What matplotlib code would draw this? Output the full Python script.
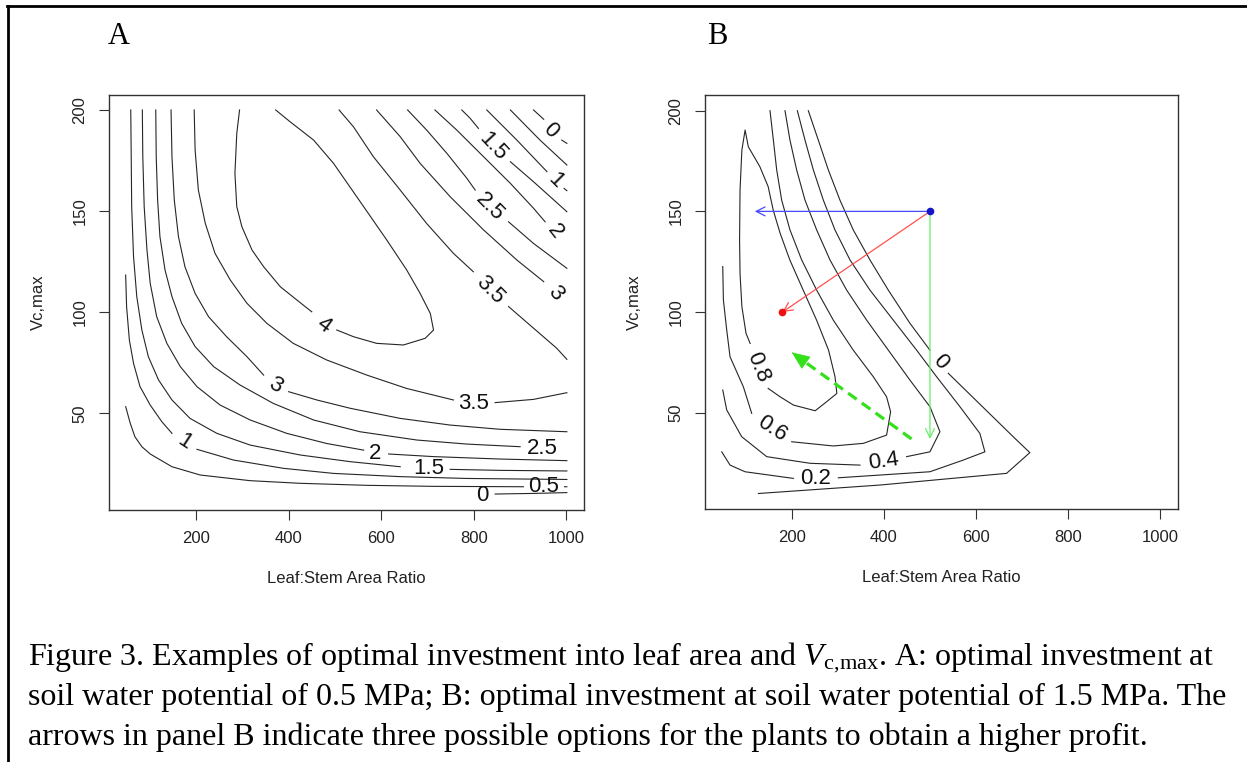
import numpy as np
import matplotlib
matplotlib.use('Agg')
import matplotlib.pyplot as plt
from matplotlib.lines import Line2D

nan = np.nan

# ---------------- axis ticks ----------------
x_ticks = [200, 400, 600, 800, 1000]
y_ticks = [50, 100, 150, 200]

# ---------------- Panel A contour lines (Leaf:Stem ratio, Vc,max) ----------------
a0_x = [846, 929, 1001]
a0_y = [10.1, 10.4, 10.8]
a05_x = [48, 58, 68, 83, 101, 148, 209, 317, 425, 569, 713, 907, nan, 996, 1001]
a05_y = [53.3, 45.0, 38.4, 33.5, 29.9, 23.6, 19.5, 16.7, 15.4, 14.4, 13.9, 13.7, nan, 13.7, 13.7]
a1_x = [48, 50, 56, 65, 79, 101, 126, 148, nan, 202, 281, 389, 497, 641, 785, 1001]
a1_y = [118.4, 102.7, 86.2, 74.7, 63.2, 54.1, 45.9, 40.1, nan, 32.2, 26.9, 22.8, 20.3, 18.7, 17.8, 17.3]
a15_x = [59, 60, 61, 65, 72, 83, 97, 119, 148, 187, 245, 317, 425, 533, 641, nan, 749, 857, 1001]
a15_y = [200, 176.9, 152.2, 127.5, 107.7, 91.2, 78.0, 66.5, 56.6, 47.5, 40.1, 34.3, 29.4, 26.1, 23.6, nan, 22.3, 21.8, 21.5]
a2_x = [84, 85, 88, 94, 101, 115, 137, 166, 202, 252, 317, 396, 482, 562, nan, 616, 713, 857, 1001]
a2_y = [200, 176.9, 152.2, 130.8, 114.3, 97.8, 84.6, 73.1, 63.2, 54.1, 46.7, 40.1, 35.1, 31.8, nan, 29.9, 28.6, 27.4, 26.6]
a25_x = [113, 114, 117, 122, 133, 148, 169, 198, 238, 295, 367, 454, 554, 677, 785, 900]
a25_y = [200, 176.9, 155.5, 137.4, 120.9, 107.7, 94.5, 83.0, 73.1, 64.0, 54.9, 46.7, 40.9, 36.8, 34.8, 33.5]
a3_x = [146, 148, 153, 162, 176, 198, 227, 266, 310, 346, nan, 400, 461, 533, 641, 749, 857, 1001]
a3_y = [200, 176.9, 155.5, 137.4, 122.5, 109.3, 97.8, 87.9, 78.0, 68.9, nan, 60.7, 56.6, 52.5, 47.5, 44.2, 42.1, 40.9]
a35_x = [196, 198, 205, 220, 241, 274, 310, 353, 410, 482, 569, 655, 756, nan, 846, 929, 1001]
a35_y = [200, 180.2, 160.4, 143.9, 129.1, 115.9, 104.4, 94.5, 84.6, 76.4, 68.9, 62.3, 56.6, nan, 55.3, 56.9, 60.2]
a4_x = [294, 288, 284, 288, 299, 321, 346, 382, 418, 450, nan, 504, 540, 590, 648, 695, 713, 706, 684,
        655, 612, 562, 497, 454, 403, 372]
a4_y = [200, 188.4, 168.6, 152.2, 142.3, 130.7, 122.5, 112.6, 106.0, 100.2, nan, 91.2, 87.9, 84.6, 83.8,
        87.1, 91.2, 99.4, 109.3, 120.9, 135.7, 152.2, 173.6, 185.1, 194.2, 200]
a35u_x = [509, 540, 583, 641, 698, 756, 799, nan, 875, 929, 979, 1001]
a35u_y = [200, 191.7, 176.9, 160.4, 143.9, 129.1, 120.0, nan, 102.8, 92.1, 82.2, 76.7]
a3u_x = [590, 641, 684, 749, 821, 893, 951]
a3u_y = [200, 186.8, 173.6, 157.1, 140.7, 125.8, 115.1]
a25u_x = [657, 698, 742, 785, 803, nan, 875, 929, 1001]
a25u_y = [200, 190.1, 178.5, 166.2, 160.4, nan, 144.7, 134.0, 121.7]
a2u_x = [716, 763, 821, 879, 929, 954]
a2u_y = [200, 190.1, 176.9, 163.7, 151.4, 144.7]
a15u_x = [774, 792, 810, nan, 879, 929, 1001]
a15u_y = [200, 195.9, 190.9, nan, 174.4, 164.5, 149.7]
a1u_x = [828, 893, 958, nan, 995, 1001]
a1u_y = [200, 185.1, 169.5, nan, 161.2, 160.1]
a05u_x = [879, 943, 1001]
a05u_y = [200, 185.1, 172.8]
a0u_x = [929, 951, nan, 990, 1001]
a0u_y = [200, 195.4, nan, 185.1, 183.5]

a_lab_text = ['0', '0.5', '1', '1.5', '2', '2.5', '3', '3.5', '4', '3.5', '3', '2.5', '2', '1.5', '1', '0']
a_lab_x = [819, 950, 176, 702, 587, 947, 371, 799, 475, 835, 976, 835, 976, 842, 976, 965]
a_lab_y = [9.6, 13.7, 36.0, 22.8, 30.2, 32.7, 64.0, 54.9, 93.6, 110.9, 109.3, 152.2, 139.8, 181.8, 165.0, 190.1]
a_lab_rot = [0, 0, -33, 0, 0, 0, -30, 0, -36, -45, -50, -45, -52, -47, -45, -45]

# ---------------- Panel B contour lines ----------------
b08_x = [110, 101, 92, 88, 87, 88, 92, 99, 106, 131, 149, 160, 175, 196, 225, 254, 280, 294, 298,
         276, 251, 204, 175, 149]
b08_y = [84.4, 89.4, 102.7, 119.2, 135.8, 160.6, 180.5, 190.4, 182.1, 172.2, 162.3, 150.6, 139.1,
         125.9, 110.9, 96.0, 81.1, 67.9, 59.6, 55.5, 51.0, 53.8, 57.9, 62.1]
b06_x = [50.5, 51.9, 59.1, 66.3, 95.2, 113.3, nan, 200.0, 290.3, 355.4, 405.9, 414.6, 405.9, 377.0,
         333.6, 290.3, 254.2, 221.7, 196.3, 178.3, 167.5, 160.3, 153.0]
b06_y = [122.6, 106.0, 91.1, 77.8, 62.9, 49.7, nan, 35.6, 33.5, 34.8, 38.9, 50.5, 57.9, 67.9,
         81.1, 96.0, 110.9, 125.9, 140.8, 155.6, 170.6, 185.4, 200.0]
b04_x = [50.5, 59.1, 91.6, 145.8, 239.8, 348.2, nan, 449.3, 499.9, 521.6, 499.9, 456.6, 409.6,
         362.6, 319.3, 283.1, 254.2, 228.9, 210.8, 196.3, 185.5]
b04_y = [61.3, 51.4, 38.1, 28.2, 24.9, 24.0, nan, 28.2, 30.6, 40.6, 53.0, 66.2, 81.1,
         96.0, 110.9, 125.9, 140.8, 155.6, 170.6, 185.4, 200.0]
b02_x = [48.3, 66.3, 98.8, 203.6, nan, 301.2, 499.9, 572.2, 619.1, 608.3, 565.0, 514.3, 471.0,
         420.4, 369.8, 326.5, 293.9, 268.7, 247.0, 228.9, 212.3]
b02_y = [30.6, 24.0, 20.7, 17.4, nan, 17.7, 20.7, 26.5, 30.6, 39.7, 53.0, 67.9, 81.1,
         96.0, 110.9, 125.9, 140.8, 155.6, 170.6, 185.4, 200.0]
b0_x = [127.8, 391.5, 666.1, 716.6, 680.5, 539.7, nan, 499.9, 456.6, 409.6, 369.8, 333.6, 304.7,
        279.5, 257.8, 236.1]
b0_y = [9.9, 14.1, 19.9, 30.2, 38.1, 69.6, nan, 81.1, 94.4, 110.9, 125.9, 140.8, 155.6,
        170.6, 185.4, 200.0]

b_lab_text = ['0.8', '0.6', '0.4', '0.2', '0']
b_lab_x = [128, 157, 399, 251, 522]
b_lab_y = [72.8, 42.2, 25.7, 17.4, 75.3]
b_lab_rot = [-68, -33, 8, 0, -48]

# ---------------- Panel B options (arrows) ----------------
start_pt = (500, 150)
blue_end = (120, 150)
red_end = (180, 100)
green_end = (500, 37)
dash_start = (460, 37)
dash_end = (200, 80)

caption_lines = [
    r"Figure 3. Examples of optimal investment into leaf area and $V_{\mathrm{c,\!max}}$. A: optimal investment at",
    "soil water potential of 0.5 MPa; B: optimal investment at soil water potential of 1.5 MPa. The",
    "arrows in panel B indicate three possible options for the plants to obtain a higher profit.",
]

# ---------------- drawing ----------------
plt.rcParams['font.family'] = ['Liberation Sans', 'DejaVu Sans']
plt.rcParams['mathtext.fontset'] = 'custom'
plt.rcParams['mathtext.rm'] = 'Liberation Serif'
plt.rcParams['mathtext.it'] = 'Liberation Serif:italic'

W, H = 1247, 762
fig = plt.figure(figsize=(W / 100, H / 100), dpi=100)

LINE = '#262626'
LBL_FS = 16


def make_axes(left_px, top_px, w_px, h_px):
    ax = fig.add_axes([left_px / W, 1 - (top_px + h_px) / H, w_px / W, h_px / H])
    ax.set_xlim(12, 1038)
    ax.set_ylim(2.4, 207.6)
    ax.set_xticks(x_ticks)
    ax.set_yticks(y_ticks)
    ax.tick_params(direction='out', length=7.5, width=0.8, color='#333333',
                   labelsize=12, pad=8, labelcolor='#222222')
    ax.tick_params(axis='y', labelrotation=90)
    plt.setp(ax.get_yticklabels(), va='center')
    for s in ax.spines.values():
        s.set_color('#333333')
        s.set_linewidth(1.0)
    ax.set_xlabel('Leaf:Stem Area Ratio', fontsize=12, color='#222222')
    ax.xaxis.set_label_coords(0.5, -0.148)
    ax.set_ylabel('Vc,max', fontsize=12, color='#222222')
    ax.yaxis.set_label_coords(-0.133, 0.5)
    return ax


axA = make_axes(109, 94.6, 475, 415)
axB = make_axes(705, 95.4, 473, 413.2)

a_lines = [(a0_x, a0_y), (a05_x, a05_y), (a1_x, a1_y), (a15_x, a15_y), (a2_x, a2_y),
           (a25_x, a25_y), (a3_x, a3_y), (a35_x, a35_y), (a4_x, a4_y), (a35u_x, a35u_y),
           (a3u_x, a3u_y), (a25u_x, a25u_y), (a2u_x, a2u_y), (a15u_x, a15u_y), (a1u_x, a1u_y),
           (a05u_x, a05u_y), (a0u_x, a0u_y)]
for xs, ys in a_lines:
    axA.plot(xs, ys, color=LINE, lw=0.8)
for t, x, y, r in zip(a_lab_text, a_lab_x, a_lab_y, a_lab_rot):
    axA.text(x, y, t, fontsize=LBL_FS, rotation=r, ha='center', va='center',
             rotation_mode='anchor', color='#111111')

b_lines = [(b08_x, b08_y), (b06_x, b06_y), (b04_x, b04_y), (b02_x, b02_y), (b0_x, b0_y)]
for xs, ys in b_lines:
    axB.plot(xs, ys, color=LINE, lw=0.8)
for t, x, y, r in zip(b_lab_text, b_lab_x, b_lab_y, b_lab_rot):
    axB.text(x, y, t, fontsize=LBL_FS, rotation=r, ha='center', va='center',
             rotation_mode='anchor', color='#111111')

thin = dict(shrinkA=0, shrinkB=0, mutation_scale=16, lw=0.9)
axB.annotate('', xy=blue_end, xytext=start_pt,
             arrowprops=dict(arrowstyle='->', color='#4848ff', **thin))
axB.annotate('', xy=red_end, xytext=start_pt,
             arrowprops=dict(arrowstyle='->', color='#ff5050', **thin))
axB.annotate('', xy=green_end, xytext=start_pt,
             arrowprops=dict(arrowstyle='->', color='#66ee66', **thin))
# dashed green arrow with filled head
frac = 0.9
shaft_end = (dash_start[0] + frac * (dash_end[0] - dash_start[0]),
             dash_start[1] + frac * (dash_end[1] - dash_start[1]))
axB.plot([dash_start[0], shaft_end[0]], [dash_start[1], shaft_end[1]],
         color='#33e01a', lw=2.3, dashes=(3.3, 2.0), solid_capstyle='butt')
axB.annotate('', xy=dash_end, xytext=shaft_end,
             arrowprops=dict(arrowstyle='-|>,head_length=0.6,head_width=0.25',
                             color='#33e01a', lw=0.5, shrinkA=0, shrinkB=0, mutation_scale=20))
axB.plot([start_pt[0]], [start_pt[1]], 'o', color='#1515c8', ms=4.5, zorder=5)
axB.plot([red_end[0]], [red_end[1]], 'o', color='#ee1111', ms=4.5, zorder=5)

# panel letters
fig.text(118.5 / W, 1 - 36 / H, 'A', fontsize=22, family='Liberation Serif', ha='center', va='center')
fig.text(717.5 / W, 1 - 36 / H, 'B', fontsize=22, family='Liberation Serif', ha='center', va='center')

# caption
for i, line in enumerate(caption_lines):
    fig.text(28 / W, 1 - (665.5 + 40 * i) / H, line, fontsize=23, family='Liberation Serif',
             ha='left', va='baseline', color='black')

# outer frame (left & top)
fig.add_artist(Line2D([7.5 / W, 7.5 / W], [0, 1 - 6 / H], transform=fig.transFigure, color='black', lw=2))
fig.add_artist(Line2D([6.5 / W, 1], [1 - 6 / H, 1 - 6 / H], transform=fig.transFigure, color='black', lw=2))

fig.savefig('out.png', dpi=100)
